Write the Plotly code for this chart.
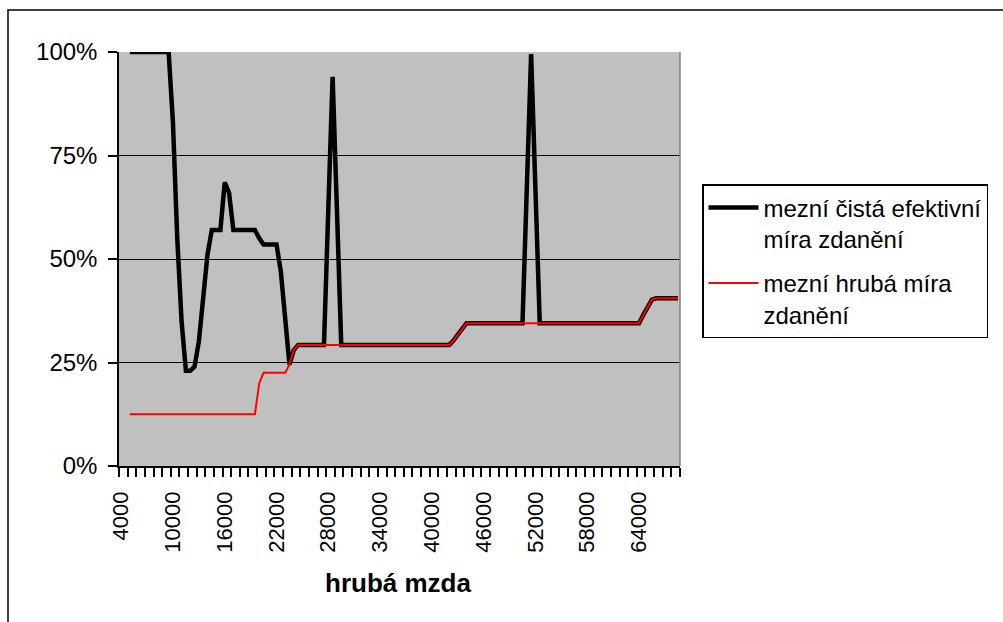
import plotly.graph_objects as go

# categories: gross wage, step 500
hruba_mzda = list(range(4000, 69000, 500))

# marginal net effective tax rate (%)
cista_efektivni = [
    None, None,
    100, 100, 100, 100, 100, 100, 100, 100, 100, 100,
    83, 55, 35, 23, 23, 24, 30, 41, 51, 57,
    57, 57, 68.5, 66, 57, 57, 57, 57, 57, 57,
    55, 53.5, 53.5, 53.5, 53.5, 47, 35, 24.5, 28, 29.2,
    29.2, 29.2, 29.2, 29.2, 29.2, 29.2, 62, 94, 62, 29.2,
    29.2, 29.2, 29.2, 29.2, 29.2, 29.2, 29.2, 29.2, 29.2, 29.2,
    29.2, 29.2, 29.2, 29.2, 29.2, 29.2, 29.2, 29.2, 29.2, 29.2,
    29.2, 29.2, 29.2, 29.2, 29.2, 30.3, 31.6, 33.0, 34.5, 34.5,
    34.5, 34.5, 34.5, 34.5, 34.5, 34.5, 34.5, 34.5, 34.5, 34.5,
    34.5, 34.5, 67, 99.5, 67, 34.5, 34.5, 34.5, 34.5, 34.5,
    34.5, 34.5, 34.5, 34.5, 34.5, 34.5, 34.5, 34.5, 34.5, 34.5,
    34.5, 34.5, 34.5, 34.5, 34.5, 34.5, 34.5, 34.5, 34.5, 36.5,
    38.5, 40.2, 40.5, 40.5, 40.5, 40.5, 40.5, 40.5, 40.5, 40.5,
]

# marginal gross tax rate (%)
hruba_mira = [
    None, None,
    12.5, 12.5, 12.5, 12.5, 12.5, 12.5, 12.5, 12.5, 12.5, 12.5,
    12.5, 12.5, 12.5, 12.5, 12.5, 12.5, 12.5, 12.5, 12.5, 12.5,
    12.5, 12.5, 12.5, 12.5, 12.5, 12.5, 12.5, 12.5, 12.5, 12.5,
    20, 22.5, 22.5, 22.5, 22.5, 22.5, 22.5, 24.5, 28, 29.2,
    29.2, 29.2, 29.2, 29.2, 29.2, 29.2, 29.2, 29.2, 29.2, 29.2,
    29.2, 29.2, 29.2, 29.2, 29.2, 29.2, 29.2, 29.2, 29.2, 29.2,
    29.2, 29.2, 29.2, 29.2, 29.2, 29.2, 29.2, 29.2, 29.2, 29.2,
    29.2, 29.2, 29.2, 29.2, 29.2, 30.3, 31.6, 33.0, 34.5, 34.5,
    34.5, 34.5, 34.5, 34.5, 34.5, 34.5, 34.5, 34.5, 34.5, 34.5,
    34.5, 34.5, 34.5, 34.5, 34.5, 34.5, 34.5, 34.5, 34.5, 34.5,
    34.5, 34.5, 34.5, 34.5, 34.5, 34.5, 34.5, 34.5, 34.5, 34.5,
    34.5, 34.5, 34.5, 34.5, 34.5, 34.5, 34.5, 34.5, 34.5, 36.5,
    38.5, 40.2, 40.5, 40.5, 40.5, 40.5, 40.5, 40.5, 40.5, 40.5,
]

x_label_vals = [4000, 10000, 16000, 22000, 28000, 34000, 40000, 46000, 52000, 58000, 64000]
x_label_text = [str(v) for v in x_label_vals]
y_tick_vals = [0, 25, 50, 75, 100]
y_tick_text = ["0%", "25%", "50%", "75%", "100%"]

FONT = "Liberation Sans, Arial, sans-serif"

fig = go.Figure()
fig.add_trace(go.Scatter(
    x=hruba_mzda, y=cista_efektivni, mode="lines",
    name="mezní čistá efektivní<br>míra zdanění", legendgroup="a",
    line=dict(color="black", width=4.5),
))
fig.add_trace(go.Scatter(
    x=hruba_mzda, y=hruba_mira, mode="lines",
    name="mezní hrubá míra<br>zdanění", legendgroup="b",
    line=dict(color="#FF0000", width=2),
))

W, H = 1003, 622
L, R, T, B = 119, 680, 52, 466
pw, ph = R - L, B - T

def px(xp):
    return (xp - L) / pw

def py(yp):
    return (B - yp) / ph

fig.update_layout(
    width=W, height=H,
    margin=dict(l=L, r=W - R, t=T, b=H - B, pad=0),
    paper_bgcolor="white",
    plot_bgcolor="#C0C0C0",
    font=dict(family=FONT, size=22, color="black"),
    showlegend=True,
    legend=dict(
        x=px(702), y=py(184), xanchor="left", yanchor="top",
        xref="paper", yref="paper",
        bgcolor="white", bordercolor="black", borderwidth=1.5,
        font=dict(family=FONT, size=24, color="black"),
        valign="top", itemwidth=50,
        traceorder="grouped", tracegroupgap=10,
    ),
    xaxis=dict(
        range=[3750, 68750],
        tickmode="array", tickvals=x_label_vals, ticktext=x_label_text,
        tickangle=-90, ticks="", ticklen=0,
        ticklabelstandoff=15,
        tickfont=dict(family=FONT, size=22),
        minor=dict(ticks="outside", tickmode="linear", tick0=3750, dtick=1000,
                   ticklen=9, tickwidth=1.5, tickcolor="black", showgrid=False),
        showline=True, linecolor="black", linewidth=1.5,
        showgrid=False, zeroline=False, automargin=False,
    ),
    yaxis=dict(
        range=[0, 100],
        tickmode="array", tickvals=y_tick_vals, ticktext=y_tick_text,
        ticks="outside", ticklen=9, tickwidth=1.5, tickcolor="black",
        ticklabelstandoff=6,
        tickfont=dict(family=FONT, size=24),
        showline=True, linecolor="black", linewidth=1.5,
        showgrid=True, gridcolor="black", gridwidth=1.2,
        zeroline=False, automargin=False,
    ),
    annotations=[dict(
        text="<b>hrubá mzda</b>", xref="paper", yref="paper",
        x=px(398), y=py(583), xanchor="center", yanchor="middle",
        showarrow=False, font=dict(family=FONT, size=26, color="black"),
    )],
    shapes=[
        dict(type="line", xref="paper", yref="paper", x0=1, x1=1, y0=0, y1=1,
             line=dict(color="#808080", width=1.5), layer="above"),
        dict(type="rect", xref="paper", yref="paper",
             x0=px(8), x1=px(1012), y0=py(632), y1=py(10),
             line=dict(color="black", width=1.5), layer="above"),
    ],
)

fig.write_html(
    "out.html",
    config={"displayModeBar": False},
    post_script="document.body.style.margin='0';document.body.style.overflow='hidden';",
)
